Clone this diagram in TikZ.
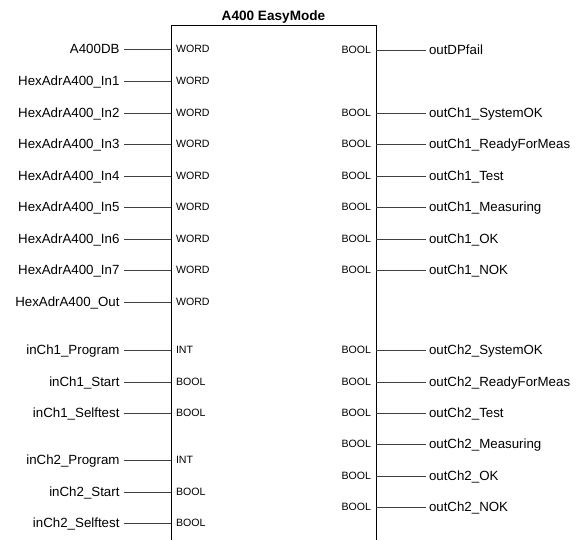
\documentclass[tikz,border=0pt]{standalone}
\usepackage{fontspec}
\setmainfont{Liberation Sans}
\begin{document}
\begin{tikzpicture}[x=1pt,y=-1pt,
  lab/.style={font=\fontsize{13.3}{15}\selectfont, text height=9.5pt, text depth=0pt, inner ysep=0pt, outer sep=0pt},
  inlab/.style={lab, anchor=east, inner xsep=4.5pt},
  outlab/.style={lab, anchor=west, inner xsep=3pt},
  typ/.style={font=\fontsize{10.6}{12}\selectfont, text height=7.6pt, text depth=0pt, inner ysep=0pt, outer sep=0pt, inner xsep=5pt},
  wire/.style={line width=0.9pt, black!75},
  boxline/.style={line width=1pt, black}]
\useasboundingbox (0,0) rectangle (577,540);
\draw[boxline] (171,540) -- (171,26) -- (376,26) -- (376,540);
\node[font=\fontsize{13.6}{15}\selectfont\bfseries, anchor=base, inner sep=0pt] (title) at (273.5,21) {A400 EasyMode};
\foreach \t/\y/\ty [count=\i] in {
  A400DB/49/WORD,
  HexAdrA400\_In1/81/WORD,
  HexAdrA400\_In2/113/WORD,
  HexAdrA400\_In3/144/WORD,
  HexAdrA400\_In4/176/WORD,
  HexAdrA400\_In5/207/WORD,
  HexAdrA400\_In6/239/WORD,
  HexAdrA400\_In7/270/WORD,
  HexAdrA400\_Out/302/WORD,
  inCh1\_Program/350/INT,
  inCh1\_Start/382/BOOL,
  inCh1\_Selftest/413/BOOL,
  inCh2\_Program/460/INT,
  inCh2\_Start/492/BOOL,
  inCh2\_Selftest/523/BOOL}{
  \node[inlab] (in\i) at (124,\y) {\t};
  \coordinate (pin\i) at (171,\y);
  \node[typ, anchor=west] (ti\i) at (pin\i) {\ty};
  \draw[wire] (in\i.east) -- (pin\i);
}
\foreach \t/\y [count=\i] in {
  outDPfail/50,
  outCh1\_SystemOK/113,
  outCh1\_ReadyForMeas/144,
  outCh1\_Test/176,
  outCh1\_Measuring/207,
  outCh1\_OK/239,
  outCh1\_NOK/270,
  outCh2\_SystemOK/350,
  outCh2\_ReadyForMeas/382,
  outCh2\_Test/413,
  outCh2\_Measuring/444,
  outCh2\_OK/476,
  outCh2\_NOK/507}{
  \node[outlab] (out\i) at (426,\y) {\t};
  \coordinate (pout\i) at (376,\y);
  \node[typ, anchor=east] (to\i) at (pout\i) {BOOL};
  \draw[wire] (pout\i) -- (out\i.west);
}
\end{tikzpicture}
\end{document}
